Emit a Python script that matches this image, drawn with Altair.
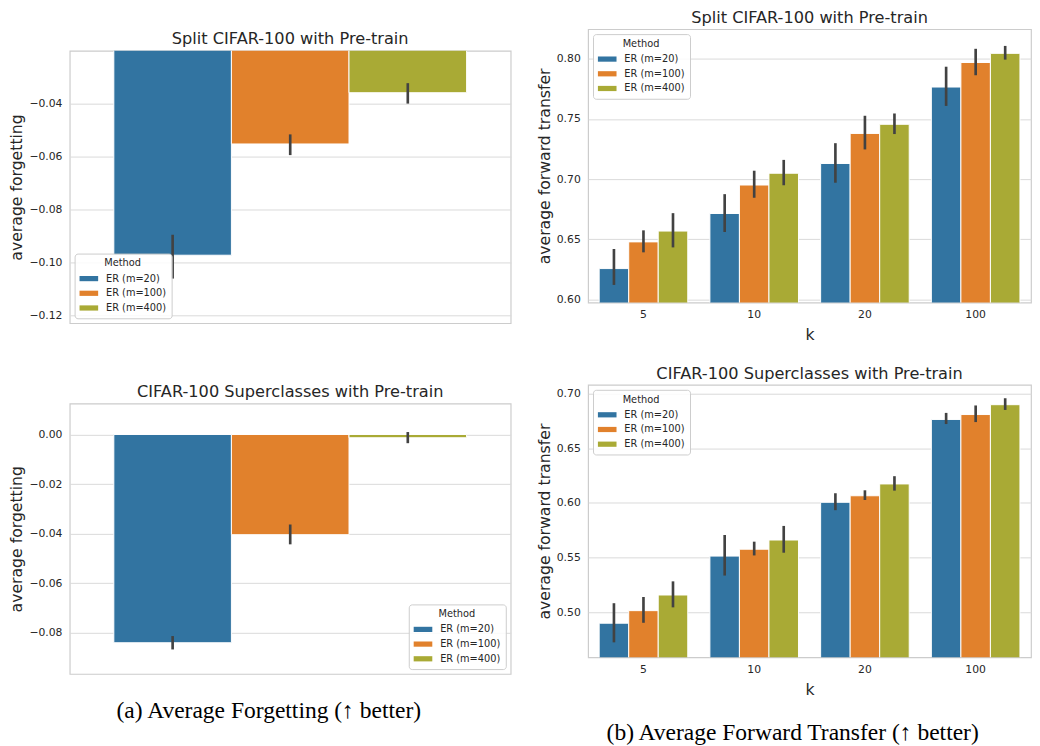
import altair as alt
import pandas as pd

methods = ["ER (m=20)", "ER (m=100)", "ER (m=400)"]
colors = ["#3274a1", "#e1812c", "#a9aa35"]
ks = ["5", "10", "20", "100"]

# Average forgetting, Split CIFAR-100 with Pre-train
fs_mean = [-0.0972, -0.0553, -0.0360]
fs_lo = [-0.1060, -0.0595, -0.0401]
fs_hi = [-0.0895, -0.0517, -0.0324]

# Average forgetting, CIFAR-100 Superclasses with Pre-train
fc_mean = [-0.0840, -0.0404, -0.0013]
fc_lo = [-0.0867, -0.0443, -0.0035]
fc_hi = [-0.0813, -0.0363, 0.0010]

# Average forward transfer, Split CIFAR-100 (per method, over k)
ts_m20 = [0.6256, 0.6714, 0.7130, 0.7766]
ts_m100 = [0.6478, 0.6951, 0.7380, 0.7970]
ts_m400 = [0.6568, 0.7049, 0.7456, 0.8046]
ts_m20_lo = [0.6120, 0.6560, 0.6970, 0.7609]
ts_m20_hi = [0.6419, 0.6875, 0.7299, 0.7935]
ts_m100_lo = [0.6391, 0.6845, 0.7247, 0.7864]
ts_m100_hi = [0.6574, 0.7070, 0.7527, 0.8084]
ts_m400_lo = [0.6432, 0.6949, 0.7375, 0.7994]
ts_m400_hi = [0.6717, 0.7160, 0.7546, 0.8108]

# Average forward transfer, CIFAR-100 Superclasses
tc_m20 = [0.4900, 0.5514, 0.6006, 0.6764]
tc_m100 = [0.5015, 0.5577, 0.6066, 0.6809]
tc_m400 = [0.5158, 0.5661, 0.6174, 0.6899]
tc_m20_lo = [0.4725, 0.5336, 0.5934, 0.6722]
tc_m20_hi = [0.5083, 0.5707, 0.6089, 0.6824]
tc_m100_lo = [0.4904, 0.5520, 0.6027, 0.6740]
tc_m100_hi = [0.5140, 0.5646, 0.6116, 0.6892]
tc_m400_lo = [0.5045, 0.5545, 0.6113, 0.6851]
tc_m400_hi = [0.5283, 0.5790, 0.6245, 0.6958]

forget_ticks_split = [-0.12, -0.10, -0.08, -0.06, -0.04]
forget_ticks_super = [-0.08, -0.06, -0.04, -0.02, 0.00]
transfer_ticks_split = [0.60, 0.65, 0.70, 0.75, 0.80]
transfer_ticks_super = [0.50, 0.55, 0.60, 0.65, 0.70]


def forget_df(mean, lo, hi):
    return pd.DataFrame({"method": methods, "mean": mean, "lo": lo, "hi": hi})


def transfer_df(means, los, his):
    rows = []
    for m, mv, lv, hv in zip(methods, means, los, his):
        for k, a, b, c in zip(ks, mv, lv, hv):
            rows.append({"k": k, "method": m, "mean": a, "lo": b, "hi": c})
    return pd.DataFrame(rows)


ERR_COLOR = "#424242"


def color_enc(orient):
    return alt.Color("method:N", sort=methods,
                     scale=alt.Scale(domain=methods, range=colors),
                     legend=alt.Legend(title="Method", orient=orient, offset=5))


def forget_panel(df, title, dom, ticks, legend_orient, h):
    base = alt.Chart(df)
    x = alt.X("method:N", sort=methods,
              scale=alt.Scale(paddingInner=0, paddingOuter=0.375), axis=None)
    bars = base.mark_bar(clip=True, stroke="white", strokeWidth=1).encode(
        x=x,
        y=alt.Y("mean:Q", scale=alt.Scale(domain=dom, zero=False, nice=False),
                axis=alt.Axis(values=ticks, format=".2f", title="average forgetting")),
        y2=alt.datum(0),
        color=color_enc(legend_orient),
    )
    errs = base.mark_rule(color=ERR_COLOR, strokeWidth=2.7).encode(
        x=x, y="lo:Q", y2="hi:Q")
    return alt.layer(bars, errs).properties(
        width=450, height=h, title=alt.TitleParams(title, offset=3))


def transfer_panel(df, title, dom, ticks, h):
    base = alt.Chart(df)
    x = alt.X("k:N", sort=ks, scale=alt.Scale(paddingInner=0.2, paddingOuter=0.1),
              axis=alt.Axis(title="k", labelAngle=0, labelPadding=6, titlePadding=8))
    xo = alt.XOffset("method:N", sort=methods,
                     scale=alt.Scale(paddingInner=0, paddingOuter=0))
    bars = base.mark_bar(clip=True, stroke="white", strokeWidth=1).encode(
        x=x, xOffset=xo,
        y=alt.Y("mean:Q", scale=alt.Scale(domain=dom, zero=False, nice=False),
                axis=alt.Axis(values=ticks, format=".2f", title="average forward transfer")),
        y2=alt.datum(0),
        color=color_enc("top-left"),
    )
    errs = base.mark_rule(color=ERR_COLOR, strokeWidth=2.7).encode(
        x=x, xOffset=xo, y="lo:Q", y2="hi:Q")
    return alt.layer(bars, errs).properties(
        width=452, height=h, title=alt.TitleParams(title, offset=3))


tl = forget_panel(forget_df(fs_mean, fs_lo, fs_hi), "Split CIFAR-100 with Pre-train",
                  [-0.1228, -0.0202], forget_ticks_split, "bottom-left", 278)
bl = forget_panel(forget_df(fc_mean, fc_lo, fc_hi), "CIFAR-100 Superclasses with Pre-train",
                  [-0.0966, 0.0125], forget_ticks_super, "bottom-right", 276)
tr = transfer_panel(transfer_df([ts_m20, ts_m100, ts_m400],
                                [ts_m20_lo, ts_m100_lo, ts_m400_lo],
                                [ts_m20_hi, ts_m100_hi, ts_m400_hi]),
                    "Split CIFAR-100 with Pre-train", [0.5973, 0.8247], transfer_ticks_split, 279)
br = transfer_panel(transfer_df([tc_m20, tc_m100, tc_m400],
                                [tc_m20_lo, tc_m100_lo, tc_m400_lo],
                                [tc_m20_hi, tc_m100_hi, tc_m400_hi]),
                    "CIFAR-100 Superclasses with Pre-train", [0.4588, 0.7080], transfer_ticks_super, 278)

# invisible spacer that lowers the left column (the two sub-figures are vertically centred)
spacer = alt.Chart(pd.DataFrame({"v": [0]})).mark_point(opacity=0, size=1).encode(
    x=alt.X("v:Q", axis=None), y=alt.Y("v:Q", axis=None)
).properties(width=450, height=1, view=alt.ViewBackground(stroke="transparent"))

caption_font = "Liberation Serif"
left_inner = alt.vconcat(
    tl, bl, spacing=60,
    title=alt.TitleParams("(a) Average Forgetting (\u2191 better)", orient="bottom",
                          font=caption_font, fontSize=24, color="#000000", offset=25,
                          anchor="middle", dx=9)
).resolve_scale(color="independent").resolve_legend(color="independent")
left_col = alt.vconcat(spacer, left_inner, spacing=-1).resolve_scale(
    color="independent").resolve_legend(color="independent")
right_col = alt.vconcat(
    tr, br, spacing=21,
    title=alt.TitleParams("(b) Average Forward Transfer (\u2191 better)", orient="bottom",
                          font=caption_font, fontSize=24, color="#000000", offset=24,
                          anchor="middle", dx=9)
).resolve_scale(color="independent").resolve_legend(color="independent")

chart = alt.hconcat(left_col, right_col, spacing=24).resolve_scale(
    color="independent").resolve_legend(color="independent").properties(
    padding={"left": 0, "top": -7, "right": 0, "bottom": 0}, background="white"
).configure(font="DejaVu Sans").configure_view(
    stroke="#cccccc", strokeWidth=1.2
).configure_axis(
    labelFont="DejaVu Sans", labelFontSize=11, labelColor="#262626",
    titleFont="DejaVu Sans", titleFontSize=16, titleColor="#262626",
    titleFontWeight="normal", ticks=False, domain=False,
    gridColor="#d9d9d9", gridWidth=1, labelPadding=8, titlePadding=4
).configure_axisX(grid=False).configure_title(
    font="DejaVu Sans", fontSize=16.5, fontWeight="normal", color="#262626", anchor="middle"
).configure_legend(
    titleFont="DejaVu Sans", titleFontSize=10, titleFontWeight="normal", titleColor="#262626",
    labelFont="DejaVu Sans", labelFontSize=10, labelColor="#262626",
    symbolType="M-1,-0.28H1V0.28H-1Z", symbolSize=361, symbolStrokeWidth=0,
    strokeColor="#cccccc", fillColor="rgba(255,255,255,0.85)", padding=5,
    cornerRadius=3, titleAnchor="middle", labelOffset=8, rowPadding=0, titlePadding=1
)

chart.save("out.html", embed_options={"renderer": "svg", "actions": False})
